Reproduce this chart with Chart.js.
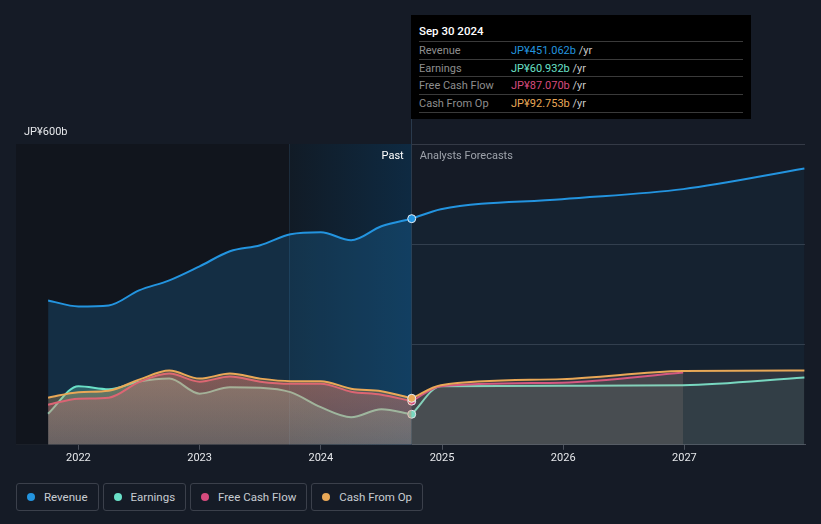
<!DOCTYPE html>
<html>
<head>
<meta charset="utf-8">
<script src="https://cdn.jsdelivr.net/npm/chart.js@4.4.1/dist/chart.umd.min.js"></script>
<style>
    body { margin: 0; background: #151b26; width: 821px; height: 524px; overflow: hidden; font-family: Roboto, "Noto Sans", sans-serif; }
    #wrap { position: absolute; left: 0; top: 0; width: 821px; height: 471px; }
    #tip { position: absolute; left: 411px; top: 15px; width: 340px; height: 104px; background: #000; font-size: 11px; }
    #tip .title { position: absolute; left: 8px; top: 9px; color: #fff; font-weight: 500; font-size: 11.5px; }
    #tip .row { position: absolute; left: 8px; width: 324px; height: 17px; border-top: 1px solid #3a3a3a; line-height: 17px; }
    #tip .row.last { border-bottom: 1px solid #3a3a3a; }
    #tip .lbl { position: absolute; left: 0; color: #8e8e8e; }
    #tip .val { position: absolute; left: 92px; }
    #tip .unit { color: #c9c9c9; }
    #legend { position: absolute; left: 16px; top: 483px; display: flex; gap: 4px; }
    .item { height: 26px; border: 1px solid #3b404b; border-radius: 3px; padding: 0 10px 0 10px; display: flex; align-items: center; color: #c8ccd2; font-size: 11.5px; }
    .dot { width: 8px; height: 8px; border-radius: 50%; margin-right: 9px; }
</style>
</head>
<body>
<div id="wrap"><canvas id="chart" width="821" height="471"></canvas></div>
<div id="tip"></div>
<div id="legend"></div>
<script>
// Zeitachse als Dezimaljahre (Quartale, Prognosen jeweils Jahresende)
const pastDates = [2021.75, 2022.0, 2022.25, 2022.5, 2022.75, 2023.0, 2023.25, 2023.5, 2023.75, 2024.0, 2024.25, 2024.5, 2024.75];
const forecastDates = [2024.75, 2024.99, 2025.99, 2026.99, 2027.99];

// Werte in Mrd. JP¥
const revenuePast = [288, 276, 278, 308, 328, 356, 386, 398, 420, 424, 408, 436, 451.062];
const earningsPast = [62, 117, 111, 126, 132, 102, 115, 114, 105, 75, 55, 71, 60.932];
const fcfPast = [80, 92, 94, 125, 142, 126, 136, 126, 122, 122, 106, 100, 87.070];
const cfoPast = [94, 105, 108, 130, 148, 132, 142, 132, 127, 127, 112, 107, 92.753];

const revenueForecast = [451.062, 470, 490, 510, 551];
const earningsForecast = [60.932, 117, 118, 119, 134];
const fcfForecast = [87.070, 117, 124, 144];
const cfoForecast = [92.753, 119, 131, 147, 148];

const yearTicks = [2022, 2023, 2024, 2025, 2026, 2027];
const yTicks = [0, 200, 400, 600];
const bandStart = 2023.74;
const pastEnd = 2024.75;

const series = [
    { name: 'Revenue', color: '#2394df', rgb: '35,148,223', past: revenuePast, forecast: revenueForecast, fcFill: 'rgba(35,148,223,0.06)' },
    { name: 'Earnings', color: '#6ae0c8', rgb: '106,224,200', past: earningsPast, forecast: earningsForecast, fcFill: 'rgba(106,224,200,0.06)' },
    { name: 'Free Cash Flow', color: '#d64b7e', rgb: '214,75,126', past: fcfPast, forecast: fcfForecast, fcFill: 'rgba(200,170,150,0.15)' },
    { name: 'Cash From Op', color: '#e9a857', rgb: '233,168,87', past: cfoPast, forecast: cfoForecast, fcFill: 'rgba(200,170,150,0.15)' }
];

const toPoints = (dates, values) => values.map((v, i) => ({ x: dates[i], y: v }));
const fmt = v => `JP¥${v.toFixed(3)}b`;

// Tooltip (statisch, wie im Screenshot)
const tip = document.getElementById('tip');
tip.innerHTML = '<div class="title">Sep 30 2024</div>' + series.map((s, i) =>
    `<div class="row${i === series.length - 1 ? ' last' : ''}" style="top:${26 + i * 17.5}px">
        <span class="lbl">${s.name}</span>
        <span class="val"><span style="color:${s.color}">${fmt(s.past[s.past.length - 1])}</span><span class="unit"> /yr</span></span>
    </div>`).join('');

// Legende
document.getElementById('legend').innerHTML = series.map(s =>
    `<div class="item"><span class="dot" style="background:${s.color}"></span>${s.name}</div>`).join('');

function lowFill(rgb, top, bottom) {
    return (context) => {
        const { chart } = context;
        const { ctx, chartArea, scales } = chart;
        if (!chartArea) return `rgba(${rgb},${bottom})`;
        const g = ctx.createLinearGradient(0, scales.y.getPixelForValue(150), 0, chartArea.bottom);
        g.addColorStop(0, `rgba(${rgb},${top})`);
        g.addColorStop(1, `rgba(${rgb},${bottom})`);
        return g;
    };
}

const datasets = [];
series.forEach((s, i) => {
    const lastIdx = s.past.length - 1;
    const isRev = i === 0;
    datasets.push({
        label: s.name,
        data: toPoints(pastDates, s.past),
        borderColor: s.color,
        borderWidth: 2,
        fill: 'origin',
        backgroundColor: isRev ? `rgba(${s.rgb},0.2)` : lowFill(s.rgb, 0.32, 0.2),
        cubicInterpolationMode: 'monotone',
        pointRadius: ctx => ctx.dataIndex === lastIdx ? 4 : 0,
        pointBackgroundColor: s.color,
        pointBorderColor: '#e6eef5',
        pointBorderWidth: 1,
        order: isRev ? 10 : 5 - i
    });
    datasets.push({
        label: s.name + ' forecast',
        data: toPoints(forecastDates, s.forecast),
        borderColor: s.color,
        borderWidth: 2,
        fill: 'origin',
        backgroundColor: s.fcFill,
        cubicInterpolationMode: 'monotone',
        pointRadius: 0,
        order: isRev ? 11 : 6 - i
    });
});

// Hintergrundflächen, Markierungslinie und Beschriftung "Past / Analysts Forecasts"
const backdrop = {
    id: 'backdrop',
    beforeDatasetsDraw(chart) {
        const { ctx, chartArea: a, scales: { x } } = chart;
        const x0 = x.getPixelForValue(bandStart);
        const x1 = x.getPixelForValue(pastEnd);
        ctx.save();
        ctx.fillStyle = '#11151d';
        ctx.fillRect(a.left, a.top, x0 - a.left, a.height);
        const band = ctx.createLinearGradient(x0, 0, x1, 0);
        band.addColorStop(0, '#111b26');
        band.addColorStop(1, '#0e2a42');
        ctx.fillStyle = band;
        ctx.fillRect(x0, a.top, x1 - x0, a.height);
        ctx.fillStyle = '#1c2c3c';
        ctx.fillRect(Math.round(x0), a.top, 1, a.height);
        ctx.fillStyle = '#2a3a4c';
        ctx.fillRect(Math.round(x1) - 1, 15, 1, a.bottom - 15);
        ctx.font = '11px Roboto, sans-serif';
        ctx.textBaseline = 'middle';
        ctx.textAlign = 'right';
        ctx.fillStyle = '#ffffff';
        ctx.fillText('Past', x1 - 8, a.top + 12);
        ctx.textAlign = 'left';
        ctx.fillStyle = '#9ea3ab';
        ctx.fillText('Analysts Forecasts', x1 + 8, a.top + 12);
        ctx.restore();
    }
};

new Chart(document.getElementById('chart').getContext('2d'), {
    type: 'line',
    data: { datasets },
    options: {
        responsive: false,
        devicePixelRatio: 1,
        animation: false,
        layout: { padding: { left: 16, right: 16, top: 144, bottom: 4 } },
        plugins: { legend: { display: false }, tooltip: { enabled: false } },
        scales: {
            x: {
                type: 'linear',
                min: 2021.485,
                max: 2027.995,
                afterBuildTicks: scale => { scale.ticks = yearTicks.map(v => ({ value: v })); },
                ticks: { color: '#e6e8eb', font: { family: 'Roboto', size: 11 }, padding: 2, maxRotation: 0, callback: v => String(v) },
                grid: { drawOnChartArea: false, drawTicks: true, tickLength: 5, color: '#4b515c' },
                border: { display: true, color: '#4b515c' }
            },
            y: {
                min: 0,
                max: 600,
                afterBuildTicks: scale => { scale.ticks = yTicks.map(v => ({ value: v })); },
                afterFit: scale => { scale.width = 0; },
                ticks: {
                    mirror: true,
                    padding: 8,
                    labelOffset: -12,
                    color: '#e6e8eb',
                    font: { family: 'Roboto', size: 11 },
                    callback: v => v === 600 ? 'JP¥600b' : v === 0 ? 'JP¥0' : ''
                },
                grid: { drawTicks: false, color: ctx => ctx.tick.value === 0 ? '#4b515c' : '#343a46' },
                border: { display: false }
            }
        }
    },
    plugins: [backdrop]
});
</script>
</body>
</html>
